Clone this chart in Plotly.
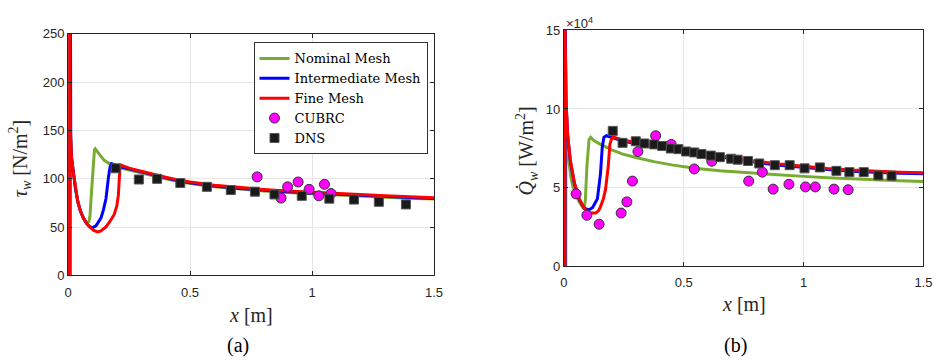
import plotly.graph_objects as go

# ---------------- (a) wall shear stress ----------------
tau_fine_x = [0.006, 0.0065, 0.0075, 0.0093, 0.014, 0.02, 0.03, 0.04, 0.05, 0.061, 0.075, 0.088, 0.105,
              0.121, 0.135, 0.155, 0.172, 0.189, 0.2, 0.206, 0.21, 0.213, 0.217, 0.25, 0.3, 0.35, 0.4,
              0.45, 0.5, 0.6, 0.7, 0.8, 0.9, 1.0, 1.1, 1.2, 1.3, 1.4, 1.5]
tau_fine_y = [0, 400, 200, 150, 122, 109, 90, 76, 67, 60, 54, 50, 46.5,
              45, 46, 50, 56, 63, 72, 83, 100, 112, 114, 111, 107.8, 104.5, 101.5,
              98.8, 96.6, 93.2, 90.8, 88.9, 87.3, 85.9, 84.6, 83.4, 82.3, 81.3, 80.4]

tau_inter_x = [0.008, 0.0085, 0.0095, 0.011, 0.014, 0.02, 0.03, 0.04, 0.05, 0.061, 0.075, 0.088, 0.1,
               0.115, 0.135, 0.145, 0.155, 0.166, 0.172, 0.178, 0.19, 0.21, 0.25, 0.3, 0.35, 0.4,
               0.45, 0.5, 0.6, 0.7, 0.8, 0.9, 1.0, 1.1, 1.2, 1.3, 1.4, 1.5]
tau_inter_y = [0, 400, 190, 140, 122, 109, 90, 76, 67, 60, 54, 50.5, 49.3,
               51.5, 59.5, 68, 79, 102.5, 112, 115.5, 114.5, 112.5, 110.2, 107, 103.7, 100.7,
               98.0, 95.8, 92.4, 90.0, 88.1, 86.5, 85.1, 83.8, 82.6, 81.5, 80.5, 79.6]

tau_nom_x = [0.007, 0.0075, 0.0085, 0.0095, 0.014, 0.02, 0.03, 0.04, 0.05, 0.061, 0.075, 0.085, 0.09,
             0.093, 0.098, 0.104, 0.108, 0.111, 0.12, 0.128, 0.148, 0.169, 0.2, 0.25, 0.3, 0.35, 0.4,
             0.45, 0.5, 0.6, 0.7, 0.8, 0.9, 1.0, 1.1, 1.2, 1.3, 1.4, 1.5]
tau_nom_y = [0, 400, 200, 150, 122, 109, 90, 76, 67, 60, 54.5, 55.5, 62,
             75, 92.6, 118, 130, 131, 127.5, 125.5, 119, 115.7, 112, 108.8, 106, 103, 100,
             97.3, 95.1, 91.7, 89.3, 87.4, 85.8, 84.4, 83.1, 81.9, 80.8, 79.8, 79.0]

tau_cubrc_x = [0.775, 0.873, 0.900, 0.943, 0.988, 1.028, 1.051, 1.078]
tau_cubrc_y = [101.9, 80.0, 91.6, 96.6, 89.0, 82.3, 94.2, 84.7]

tau_dns_x = [0.195, 0.290, 0.365, 0.460, 0.569, 0.667, 0.766, 0.846, 0.958, 1.071, 1.172, 1.274, 1.385]
tau_dns_y = [110.8, 99.2, 99.9, 95.6, 91.6, 88.3, 86.6, 83.7, 82.3, 79.4, 78.4, 76.1, 73.4]

# ---------------- (b) wall heat flux (units of 1e4 W/m^2) ----------------
q_fine_x = [0.004, 0.0045, 0.006, 0.0095, 0.016, 0.027, 0.044, 0.064, 0.085, 0.1, 0.112, 0.133, 0.145,
            0.153, 0.165, 0.174, 0.185, 0.192, 0.2, 0.207, 0.22, 0.25, 0.3, 0.35, 0.4, 0.5, 0.6,
            0.7, 0.8, 0.9, 1.0, 1.1, 1.2, 1.3, 1.4, 1.5]
q_fine_y = [0, 20, 14, 10.4, 8.36, 6.74, 5.32, 4.30, 3.69, 3.47, 3.39, 3.39, 3.55,
            3.80, 4.3, 4.91, 6.33, 7.75, 8.15, 8.22, 8.15, 8.02, 7.88, 7.74, 7.6, 7.38, 7.15,
            6.92, 6.68, 6.5, 6.35, 6.22, 6.12, 6.04, 5.99, 5.95]

q_inter_x = [0.005, 0.0055, 0.007, 0.0095, 0.016, 0.027, 0.044, 0.064, 0.085, 0.105, 0.12, 0.14, 0.153,
             0.16, 0.167, 0.178, 0.2, 0.25, 0.3, 0.35, 0.4, 0.5, 0.6, 0.7, 0.8, 0.9, 1.0, 1.1, 1.2,
             1.3, 1.4, 1.5]
q_inter_y = [0, 20, 13.5, 10.3, 8.3, 6.7, 5.25, 4.25, 3.7, 3.59, 3.75, 4.3, 5.93,
             7.55, 8.2, 8.3, 8.18, 7.95, 7.8, 7.66, 7.52, 7.3, 7.07, 6.84, 6.61, 6.43, 6.28, 6.15, 6.05,
             5.97, 5.92, 5.88]

q_nom_x = [0.008, 0.0085, 0.012, 0.02, 0.03, 0.037, 0.05, 0.064, 0.076, 0.085, 0.09, 0.096, 0.105,
           0.112, 0.125, 0.153, 0.2, 0.243, 0.3, 0.38, 0.45, 0.545, 0.65, 0.8, 0.9, 1.0, 1.1, 1.2,
           1.3, 1.4, 1.5]
q_nom_y = [0, 8.6, 8.2, 6.8, 5.6, 5.11, 4.6, 4.1, 3.8, 3.65, 4.3, 6.33, 8.06,
           8.2, 8.0, 7.75, 7.4, 7.15, 6.92, 6.64, 6.45, 6.23, 6.07, 5.9, 5.8, 5.72, 5.63, 5.56,
           5.5, 5.45, 5.4]

q_cubrc_x = [0.051, 0.096, 0.147, 0.239, 0.263, 0.286, 0.309, 0.383, 0.448, 0.544, 0.617, 0.771,
             0.828, 0.873, 0.939, 1.008, 1.049, 1.127, 1.186]
q_cubrc_y = [4.61, 3.25, 2.68, 3.39, 4.10, 5.42, 7.30, 8.30, 7.75, 6.19, 6.68, 5.42,
             5.99, 4.91, 5.22, 5.05, 5.05, 4.91, 4.87]

q_dns_x = [0.204, 0.245, 0.300, 0.336, 0.377, 0.410, 0.446, 0.478, 0.510, 0.544, 0.574, 0.613, 0.651,
           0.698, 0.725, 0.768, 0.815, 0.880, 0.942, 1.004, 1.068, 1.137, 1.191, 1.251, 1.312, 1.367]
q_dns_y = [8.61, 7.85, 7.95, 7.81, 7.75, 7.65, 7.49, 7.45, 7.30, 7.24, 7.14, 7.04, 6.94,
           6.84, 6.78, 6.70, 6.54, 6.43, 6.43, 6.23, 6.29, 6.07, 5.99, 5.99, 5.78, 5.76]

x_ticks = [0, 0.5, 1, 1.5]
x_tick_text = ["0", "0.5", "1", "1.5"]
tau_ticks = [0, 50, 100, 150, 200, 250]
q_ticks = [0, 5, 10, 15]

GREEN = "#77AC30"
BLUE = "#0000FF"
RED = "#FF0000"
MAG = "#FF00FF"
SERIF = "Liberation Serif"
SANS = "Liberation Sans"

fig = go.Figure()

def add_panel(xa, ya, nom, inter, fine, cubrc, dns, show):
    for (xs, ys), name, col in [(nom, "Nominal Mesh", GREEN), (inter, "Intermediate Mesh", BLUE),
                                (fine, "Fine Mesh", RED)]:
        fig.add_trace(go.Scatter(x=xs, y=ys, mode="lines", name=name, line=dict(color=col, width=3),
                                 xaxis=xa, yaxis=ya, showlegend=show))
    fig.add_trace(go.Scatter(x=cubrc[0], y=cubrc[1], mode="markers", name="CUBRC",
                             marker=dict(symbol="circle", size=10, color=MAG,
                                         line=dict(color="#333333", width=1)),
                             xaxis=xa, yaxis=ya, showlegend=show))
    fig.add_trace(go.Scatter(x=dns[0], y=dns[1], mode="markers", name="DNS",
                             marker=dict(symbol="square", size=9, color="#1a1a1a",
                                         line=dict(color="#555555", width=1)),
                             xaxis=xa, yaxis=ya, showlegend=show))

add_panel("x", "y", (tau_nom_x, tau_nom_y), (tau_inter_x, tau_inter_y), (tau_fine_x, tau_fine_y),
          (tau_cubrc_x, tau_cubrc_y), (tau_dns_x, tau_dns_y), True)
add_panel("x2", "y2", (q_nom_x, q_nom_y), (q_inter_x, q_inter_y), (q_fine_x, q_fine_y),
          (q_cubrc_x, q_cubrc_y), (q_dns_x, q_dns_y), False)

axis_common = dict(showline=True, linecolor="#262626", linewidth=1, mirror="allticks",
                   ticks="inside", ticklen=4, tickcolor="#262626",
                   showgrid=True, gridcolor="#e6e6e6", gridwidth=1, zeroline=False,
                   tickfont=dict(family=SANS, size=13, color="#262626"))

W, H = 941, 360
fig.update_layout(
    width=W, height=H, margin=dict(l=0, r=0, t=0, b=0),
    paper_bgcolor="white", plot_bgcolor="white",
    font=dict(family=SERIF, size=15, color="#000000"),
    xaxis=dict(domain=[65 / W, 436 / W], range=[0, 1.5], tickvals=x_ticks, ticktext=x_tick_text,
               anchor="y", ticklabelstandoff=5, **axis_common),
    yaxis=dict(domain=[1 - 280 / H, 1 - 28 / H], range=[0, 250], tickvals=tau_ticks,
               anchor="x", **axis_common),
    xaxis2=dict(domain=[567.7 / W, 932.3 / W], range=[0, 1.5], tickvals=x_ticks, ticktext=x_tick_text,
                anchor="y2", ticklabelstandoff=4, **axis_common),
    yaxis2=dict(domain=[1 - 270.7 / H, 1 - 24.3 / H], range=[0, 15], tickvals=q_ticks,
                anchor="x2", **axis_common),
    legend=dict(x=253 / W, y=1 - 37 / H, xanchor="left", yanchor="top",
                bgcolor="white", bordercolor="#333333", borderwidth=1,
                font=dict(family="DejaVu Serif", size=13, color="#000000"),
                tracegroupgap=0, itemwidth=30),
    showlegend=True,
)

ann = [
    dict(x=250 / W, y=1 - 321 / H, text="<i>x</i> [m]", font=dict(family=SERIF, size=20, color="#262626")),
    dict(x=750 / W, y=1 - 310 / H, text="<i>x</i> [m]", font=dict(family=SERIF, size=20, color="#262626")),
    dict(x=17 / W, y=1 - 158 / H, text="<i>τ</i><sub><i>w</i></sub> [N/m<sup>2</sup>]", textangle=-90,
         font=dict(family=SERIF, size=20, color="#262626")),
    dict(x=530 / W, y=1 - 150 / H, text="<i>Q̇</i><sub><i>w</i></sub> [W/m<sup>2</sup>]", textangle=-90,
         font=dict(family=SERIF, size=20, color="#262626")),
    dict(x=237 / W, y=1 - 353 / H, text="(a)", font=dict(family=SERIF, size=20, color="#000000")),
    dict(x=742 / W, y=1 - 353 / H, text="(b)", font=dict(family=SERIF, size=20, color="#000000")),
    dict(x=568 / W, y=1 - 17 / H, text="×10<sup>4</sup>", xanchor="left",
         font=dict(family=SANS, size=13, color="#262626")),
]
for a in ann:
    a.setdefault("xanchor", "center")
    fig.add_annotation(xref="paper", yref="paper", showarrow=False, yanchor="middle", **a)

fig.write_html("out.html")
